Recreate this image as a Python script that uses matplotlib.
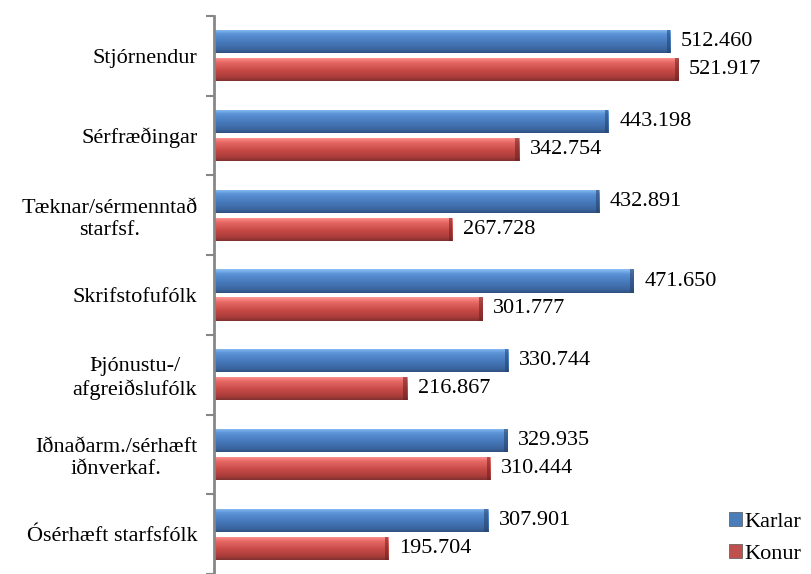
import matplotlib
matplotlib.use("Agg")
import matplotlib.pyplot as plt
import numpy as np
from matplotlib.colors import LinearSegmentedColormap
from matplotlib.font_manager import FontProperties

categories = ["Stjórnendur", "Sérfræðingar", "Tæknar/sérmenntað\nstarfsf.", "Skrifstofufólk",
              "Þjónustu-/\nafgreiðslufólk", "Iðnaðarm./sérhæft\niðnverkaf.", "Ósérhæft starfsfólk"]
karlar = [512.460, 443.198, 432.891, 471.650, 330.744, 329.935, 307.901]
konur = [521.917, 342.754, 267.728, 301.777, 216.867, 310.444, 195.704]
series_names = ["Karlar", "Konur"]

def fmt(v):
    return f"{v:.3f}"

FAM = ['Liberation Serif', 'DejaVu Serif']
plt.rcParams['font.family'] = FAM
FS = 16
fp = FontProperties(family=FAM, size=FS)

fig = plt.figure(figsize=(8.12, 5.74), dpi=100)
ax = fig.add_axes([214/812, 0.0, 534/812, 1 - 16/574])

y = np.arange(len(categories))
h = 0.29
off = 0.175

blue_cmap = LinearSegmentedColormap.from_list("b", [(0, "#8cc0f5"), (0.2, "#5b93d6"), (0.55, "#4679bb"), (0.85, "#3b66a0"), (1, "#2f5180")])
red_cmap = LinearSegmentedColormap.from_list("r", [(0, "#ff9a96"), (0.2, "#e86a66"), (0.55, "#c84a47"), (0.85, "#a83c3a"), (1, "#803030")])

grad = np.linspace(0, 1, 64).reshape(-1, 1)

def draw_series(vals, pos, cmap, edge, label):
    bars = ax.barh(pos, vals, height=h, color=cmap(0.5), edgecolor="none", label=label, zorder=2)
    for b in bars:
        x0, y0 = b.get_x(), b.get_y()
        w, hh = b.get_width(), b.get_height()
        im = ax.imshow(grad, cmap=cmap, aspect="auto", extent=[x0, x0 + w, y0 + hh, y0],
                       zorder=3, interpolation="bilinear")
        im.set_clip_path(b)
        ax.add_patch(plt.Rectangle((x0 + w - 4, y0), 4, hh, color=edge, alpha=0.55, zorder=4, lw=0))
    return bars

b1 = draw_series(karlar, y - off, blue_cmap, "#24406a", series_names[0])
b2 = draw_series(konur, y + off, red_cmap, "#6a2020", series_names[1])

for vals, pos in ((karlar, y - off), (konur, y + off)):
    for v, p in zip(vals, pos):
        ax.text(v + 12, p, fmt(v), va="center", ha="left", fontproperties=fp, color="black", zorder=5)

ax.set_xlim(0, 600)
ax.set_ylim(len(categories) - 0.5, -0.5)
ax.set_yticks(y)
ax.set_yticklabels(categories, fontproperties=fp, multialignment="center")
ax.set_yticks(np.arange(-0.5, len(categories), 1), minor=True)
ax.tick_params(axis="y", which="major", length=0, pad=12)
ax.tick_params(axis="y", which="minor", length=6, width=1.5, color="#868686")
ax.set_xticks([])
for s in ["top", "right", "bottom"]:
    ax.spines[s].set_visible(False)
ax.spines["left"].set_color("#868686")
ax.spines["left"].set_linewidth(2)
ax.spines["left"].set_zorder(6)

leg = fig.legend(handles=[b1, b2], labels=series_names, loc="lower left",
                 bbox_to_anchor=(729/812, 10/574), frameon=False, prop=fp,
                 handlelength=0.6, handleheight=0.6, handletextpad=0.1, labelspacing=0.55,
                 borderpad=0, borderaxespad=0)
for hnd, c in zip(leg.legend_handles, ["#4a7ebb", "#c0504d"]):
    hnd.set_facecolor(c)
    hnd.set_edgecolor("#555555")
    hnd.set_linewidth(0.5)

fig.savefig("out.png", dpi=100)
